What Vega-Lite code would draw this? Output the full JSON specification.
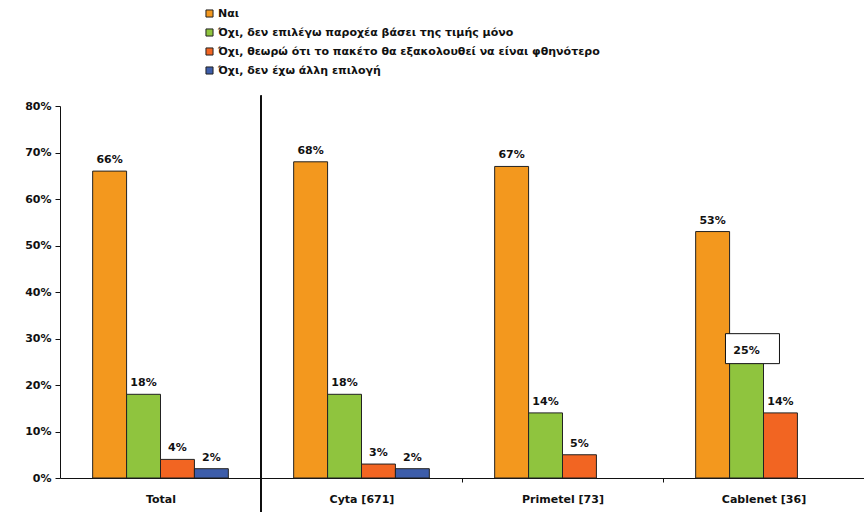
{
  "$schema": "https://vega.github.io/schema/vega-lite/v6.json",
  "width": 804,
  "height": 372,
  "autosize": {"type": "none"},
  "padding": {"left": 60, "top": 106, "right": 0, "bottom": 34},
  "background": "white",
  "config": {
    "view": {"stroke": null},
    "font": "DejaVu Sans",
    "axis": {"labelFont": "DejaVu Sans", "labelFontWeight": "bold", "labelFontSize": 11, "labelColor": "#111", "domainColor": "#111", "tickColor": "#111", "grid": false, "title": null}
  },
  "data": {
    "values": [
      {"provider": "Total", "answer": "Ναι", "value": 0.66},
      {"provider": "Total", "answer": "Όχι, δεν επιλέγω παροχέα βάσει της τιμής μόνο", "value": 0.18},
      {"provider": "Total", "answer": "Όχι, θεωρώ ότι το πακέτο θα εξακολουθεί να είναι φθηνότερο", "value": 0.04},
      {"provider": "Total", "answer": "Όχι, δεν έχω άλλη επιλογή", "value": 0.02},
      {"provider": "Cyta [671]", "answer": "Ναι", "value": 0.68},
      {"provider": "Cyta [671]", "answer": "Όχι, δεν επιλέγω παροχέα βάσει της τιμής μόνο", "value": 0.18},
      {"provider": "Cyta [671]", "answer": "Όχι, θεωρώ ότι το πακέτο θα εξακολουθεί να είναι φθηνότερο", "value": 0.03},
      {"provider": "Cyta [671]", "answer": "Όχι, δεν έχω άλλη επιλογή", "value": 0.02},
      {"provider": "Primetel [73]", "answer": "Ναι", "value": 0.67},
      {"provider": "Primetel [73]", "answer": "Όχι, δεν επιλέγω παροχέα βάσει της τιμής μόνο", "value": 0.14},
      {"provider": "Primetel [73]", "answer": "Όχι, θεωρώ ότι το πακέτο θα εξακολουθεί να είναι φθηνότερο", "value": 0.05},
      {"provider": "Cablenet [36]", "answer": "Ναι", "value": 0.53},
      {"provider": "Cablenet [36]", "answer": "Όχι, δεν επιλέγω παροχέα βάσει της τιμής μόνο", "value": 0.25},
      {"provider": "Cablenet [36]", "answer": "Όχι, θεωρώ ότι το πακέτο θα εξακολουθεί να είναι φθηνότερο", "value": 0.14}
    ]
  },
  "encoding": {
    "x": {
      "field": "provider", "type": "nominal",
      "sort": ["Total", "Cyta [671]", "Primetel [73]", "Cablenet [36]"],
      "scale": {"paddingInner": 0.325, "paddingOuter": 0.1625},
      "axis": {"labelAngle": 0, "tickSize": 4, "labelPadding": 11, "tickOffset": 100.5, "labelOffset": -100.5}
    },
    "xOffset": {
      "field": "answer", "type": "nominal",
      "sort": ["Ναι", "Όχι, δεν επιλέγω παροχέα βάσει της τιμής μόνο", "Όχι, θεωρώ ότι το πακέτο θα εξακολουθεί να είναι φθηνότερο", "Όχι, δεν έχω άλλη επιλογή"],
      "scale": {"domain": ["Ναι", "Όχι, δεν επιλέγω παροχέα βάσει της τιμής μόνο", "Όχι, θεωρώ ότι το πακέτο θα εξακολουθεί να είναι φθηνότερο", "Όχι, δεν έχω άλλη επιλογή"], "paddingInner": 0, "paddingOuter": 0}
    },
    "y": {
      "field": "value", "type": "quantitative",
      "scale": {"domain": [0, 0.8], "nice": false},
      "axis": {"format": ".0%", "values": [0, 0.1, 0.2, 0.3, 0.4, 0.5, 0.6, 0.7, 0.8], "tickSize": 5, "labelPadding": 4}
    }
  },
  "layer": [
    {
      "mark": {"type": "bar", "stroke": "#222", "strokeWidth": 1},
      "encoding": {
        "color": {
          "field": "answer", "type": "nominal",
          "scale": {
            "domain": ["Ναι", "Όχι, δεν επιλέγω παροχέα βάσει της τιμής μόνο", "Όχι, θεωρώ ότι το πακέτο θα εξακολουθεί να είναι φθηνότερο", "Όχι, δεν έχω άλλη επιλογή"],
            "range": ["#F3981E", "#8FC43E", "#F26522", "#3D5DAA"]
          },
          "legend": {
            "title": null, "orient": "none", "legendX": 144, "legendY": -98,
            "symbolType": "square", "symbolSize": 50, "symbolStrokeColor": "#222", "symbolStrokeWidth": 1, "symbolOpacity": 1,
            "labelFont": "DejaVu Sans", "labelFontWeight": "bold", "labelFontSize": 11, "labelColor": "#111", "labelLimit": 600, "rowPadding": 6, "labelOffset": 3
          }
        }
      }
    },
    {
      "transform": [{"filter": "datum.provider == 'Cablenet [36]' && datum.value == 0.25"}],
      "mark": {"type": "point", "shape": "M-0.78,-1.04H1.22V0.07H-0.78Z", "size": 2916, "filled": true, "fill": "white", "stroke": "#111", "strokeWidth": 1, "opacity": 1}
    },
    {
      "mark": {"type": "text", "baseline": "alphabetic", "dy": -8, "fontSize": 11, "fontWeight": "bold", "color": "#111"},
      "encoding": {"text": {"field": "value", "type": "quantitative", "format": ".0%"}}
    },
    {
      "mark": {"type": "rule", "color": "#111", "strokeWidth": 1},
      "encoding": {
        "x": {"datum": "Cyta [671]", "bandPosition": -0.24},
        "xOffset": null,
        "y": {"datum": 0.822},
        "y2": {"datum": -0.073}
      }
    }
  ]
}
